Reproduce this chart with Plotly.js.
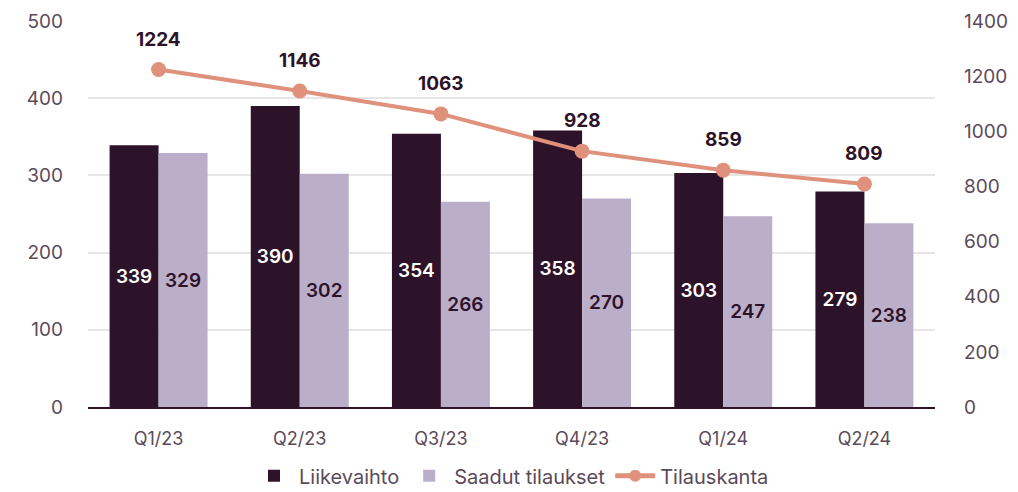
<!DOCTYPE html>
<html>
<head>
<meta charset="utf-8">
<script src="https://cdn.plot.ly/plotly-3.0.1.min.js"></script>
<style>html,body{margin:0;padding:0;background:#fff;}#chart{width:1018px;height:492px;}</style>
</head>
<body>
<div id="chart"></div>
<script>
const categories = ["Q1/23", "Q2/23", "Q3/23", "Q4/23", "Q1/24", "Q2/24"];
const liikevaihto = [339, 390, 354, 358, 303, 279];
const saadutTilaukset = [329, 302, 266, 270, 247, 238];
const tilauskanta = [1224, 1146, 1063, 928, 859, 809];

const dark = "#2d1329";
const light = "#bbaec9";
const lineCol = "#e0917c";
const tickCol = "#5b4a5a";
const fontFam = "Inter, 'Open Sans', sans-serif";

const traces = [
  {
    type: "bar", name: "Liikevaihto", x: categories, y: liikevaihto,
    marker: {color: dark},
    text: liikevaihto.map(String), textposition: "inside", insidetextanchor: "middle",
    textfont: {color: "#ffffff", size: 19, family: fontFam, weight: 600},
    hoverinfo: "none"
  },
  {
    type: "bar", name: "Saadut tilaukset", x: categories, y: saadutTilaukset,
    marker: {color: light},
    text: saadutTilaukset.map(String), textposition: "inside", insidetextanchor: "middle",
    textfont: {color: dark, size: 19, family: fontFam, weight: 600},
    hoverinfo: "none"
  },
  {
    type: "scatter", mode: "lines+markers", name: "Tilauskanta", x: categories, y: tilauskanta,
    yaxis: "y2",
    line: {color: lineCol, width: 4},
    marker: {color: lineCol, size: 15},
    hoverinfo: "none"
  }
];

const annotations = categories.map((c, i) => ({
  x: c, y: tilauskanta[i], xref: "x", yref: "y2",
  text: String(tilauskanta[i]), showarrow: false,
  yanchor: "bottom", yshift: 17,
  font: {color: dark, size: 19, family: fontFam, weight: 700}
}));

const layout = {
  width: 1018, height: 492,
  margin: {l: 88, r: 83, t: 21, b: 85, autoexpand: false},
  paper_bgcolor: "#ffffff", plot_bgcolor: "#ffffff",
  font: {family: fontFam, color: tickCol, size: 17},
  barmode: "group", bargap: 0.306, bargroupgap: 0,
  showlegend: true,
  legend: {orientation: "h", x: 0.5, xanchor: "center", y: -0.178, yanchor: "middle",
           font: {size: 20, color: tickCol, family: fontFam}, traceorder: "normal",
           itemwidth: 40, itemsizing: "constant"},
  annotations: annotations,
  xaxis: {
    type: "category", showgrid: false, zeroline: false,
    showline: true, linecolor: dark, linewidth: 2,
    ticks: "", ticklabelstandoff: 14, tickfont: {size: 18, color: tickCol}
  },
  yaxis: {
    range: [0, 500], tickvals: [0, 100, 200, 300, 400, 500],
    showgrid: true, gridcolor: "#e6e6e6", gridwidth: 2, zeroline: false,
    ticks: "", ticklabelstandoff: 24, tickfont: {size: 19, color: tickCol}
  },
  yaxis2: {
    overlaying: "y", side: "right", range: [0, 1400],
    tickvals: [0, 200, 400, 600, 800, 1000, 1200, 1400],
    showgrid: false, zeroline: false, ticks: "",
    ticklabelstandoff: 28, tickfont: {size: 19, color: tickCol}
  }
};

Plotly.newPlot("chart", traces, layout, {displayModeBar: false, staticPlot: true});
</script>
</body>
</html>
